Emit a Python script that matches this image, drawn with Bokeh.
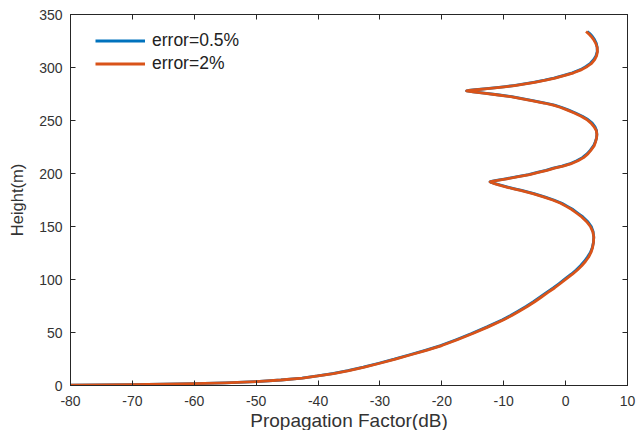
from bokeh.plotting import figure
from bokeh.models import LinearAxis, FixedTicker, Range1d, Legend, LegendItem
from bokeh.embed import file_html
from bokeh.resources import INLINE

# Receiver height (m)
height_m = [
    0.3, 0.5, 0.8, 1.2, 1.7, 2.5, 3.7, 5.2, 7.0, 9.0,
    11.3, 14.0, 17.3, 21.0, 24.8, 29.0, 33.2, 37.7, 43.2, 49.0,
    55.3, 62.0, 66.0, 70.0, 74.5, 79.0, 83.5, 88.0, 92.0, 96.0,
    100.5, 105.0, 109.0, 113.0, 117.0, 121.0, 125.5, 130.0, 135.0, 140.0,
    145.0, 150.0, 154.5, 159.0, 162.5, 166.0, 169.0, 172.0, 175.0, 178.0,
    181.0, 184.0, 185.5, 187.0, 189.0, 190.5, 191.5, 192.2,
    192.6, 193.5, 195.0, 197.0, 199.0, 201.0, 203.0, 205.0, 207.0, 209.0,
    212.0, 215.0, 218.5, 222.0, 226.0, 230.0, 233.5, 237.0,
    240.5, 244.0, 247.5, 251.0, 254.0, 257.0, 260.0, 262.5, 264.5, 266.5,
    268.5, 270.5, 272.5, 274.3, 275.8, 277.0, 277.9,
    278.3, 279.0, 280.0, 281.0, 282.0, 283.0, 284.5, 286.0, 288.0, 290.0,
    292.5, 295.0, 298.0, 301.0, 304.0, 307.5, 311.0, 315.0, 319.0,
    323.0, 326.5, 329.5, 332.0, 334.0,
]

# Propagation factor (dB), error = 0.5 %
pf_err05 = [
    -80.0, -75.0, -70.0, -65.0, -60.0, -55.0, -50.0, -46.0, -42.6, -40.1,
    -37.7, -35.2, -32.7, -30.2, -27.7, -25.2, -22.7, -20.2, -17.7, -15.2,
    -12.7, -10.2, -8.9, -7.7, -6.4, -5.2, -4.1, -3.0, -2.0, -1.1,
    -0.1, 0.9, 1.7, 2.4, 3.0, 3.5, 4.0, 4.3, 4.5, 4.55,
    4.45, 4.15, 3.6, 2.8, 2.0, 1.2, 0.3, -0.6, -1.9, -3.4,
    -5.1, -7.1, -8.2, -9.2, -10.5, -11.4, -12.0, -12.2,
    -12.0, -11.2, -9.7, -7.8, -6.0, -4.6, -3.2, -2.0, -0.6, 0.6,
    1.8, 2.7, 3.45, 4.0, 4.5, 4.8, 5.0, 5.05,
    5.0, 4.75, 4.3, 3.6, 2.7, 1.6, 0.4, -0.7, -1.8, -3.3,
    -5.1, -6.8, -8.7, -11.0, -13.1, -14.9, -16.0,
    -15.7, -14.6, -12.8, -11.2, -9.7, -8.4, -6.7, -5.2, -3.4, -1.9,
    -0.3, 1.1, 2.4, 3.3, 4.0, 4.55, 4.9, 5.1, 5.1,
    4.95, 4.65, 4.3, 3.9, 3.5,
]

# Propagation factor (dB), error = 2 %
pf_err2 = [
    -80.0, -75.0, -70.0, -65.0, -60.0, -55.0, -50.0, -46.0, -42.5, -40.0,
    -37.5, -35.0, -32.5, -30.0, -27.5, -25.0, -22.5, -20.0, -17.5, -15.0,
    -12.5, -10.0, -8.7, -7.5, -6.2, -5.0, -3.9, -2.8, -1.8, -0.9,
    0.1, 1.1, 1.9, 2.6, 3.2, 3.7, 4.1, 4.35, 4.5, 4.55,
    4.4, 4.0, 3.4, 2.6, 1.8, 1.0, 0.1, -0.8, -2.1, -3.6,
    -5.3, -7.3, -8.4, -9.4, -10.7, -11.5, -12.0, -12.2,
    -11.9, -11.0, -9.5, -7.6, -5.8, -4.4, -3.0, -1.8, -0.4, 0.8,
    2.0, 2.9, 3.6, 4.1, 4.6, 4.85, 5.0, 5.05,
    4.95, 4.6, 4.1, 3.4, 2.5, 1.4, 0.2, -0.9, -2.0, -3.5,
    -5.3, -7.0, -8.9, -11.2, -13.3, -15.0, -16.0,
    -15.6, -14.4, -12.6, -11.0, -9.5, -8.2, -6.5, -5.0, -3.2, -1.7,
    -0.1, 1.3, 2.6, 3.5, 4.2, 4.7, 5.0, 5.15, 5.1,
    4.85, 4.5, 4.1, 3.7, 3.3,
]

x_ticks = [-80, -70, -60, -50, -40, -30, -20, -10, 0, 10]
y_ticks = [0, 50, 100, 150, 200, 250, 300, 350]
x_tick_labels = {t: str(t) for t in x_ticks}   # plain hyphen minus

FONT = "Liberation Sans"
AXIS_COLOR = "#262626"
TEXT_COLOR = "#333333"
BLUE = "#0072BD"
ORANGE = "#D95319"

p = figure(
    frame_width=557, frame_height=371,
    x_range=Range1d(-80, 10), y_range=Range1d(0, 350),
    output_backend="svg", toolbar_location=None,
    min_border_left=70, min_border_right=12,
    min_border_top=14, min_border_bottom=45,
    background_fill_color="white", border_fill_color="white",
)
p.xgrid.visible = False
p.ygrid.visible = False
p.outline_line_color = AXIS_COLOR
p.outline_line_width = 1

r1 = p.line(pf_err05, height_m, line_color=BLUE, line_width=2.8, line_join="round")
r2 = p.line(pf_err2, height_m, line_color=ORANGE, line_width=2.8, line_join="round")


def style_axis(ax):
    ax.axis_line_color = AXIS_COLOR
    ax.major_tick_line_color = AXIS_COLOR
    ax.major_tick_in = 5
    ax.major_tick_out = 0
    ax.minor_tick_line_color = None
    ax.major_label_text_font = FONT
    ax.major_label_text_color = TEXT_COLOR
    ax.major_label_text_font_size = "14px"
    ax.axis_label_text_font = FONT
    ax.axis_label_text_color = TEXT_COLOR
    ax.axis_label_text_font_size = "18px"
    ax.axis_label_text_font_style = "normal"


p.xaxis.ticker = FixedTicker(ticks=x_ticks)
p.yaxis.ticker = FixedTicker(ticks=y_ticks)
p.xaxis.major_label_overrides = x_tick_labels
p.xaxis.axis_label = "Propagation Factor(dB)"
p.yaxis.axis_label = "Height(m)"
style_axis(p.xaxis[0])
style_axis(p.yaxis[0])
p.xaxis.axis_label_text_font_size = "19px"
p.yaxis.axis_label_text_font_size = "16.5px"
p.xaxis.major_label_standoff = 10
p.xaxis.axis_label_standoff = 1
p.yaxis.major_label_standoff = 8
p.yaxis.axis_label_standoff = 10

# Box ticks on the top and right edges, without labels
for side, ticks in (("above", x_ticks), ("right", y_ticks)):
    ax = LinearAxis(ticker=FixedTicker(ticks=ticks))
    style_axis(ax)
    ax.major_label_text_color = None
    ax.major_label_text_font_size = "1px"
    ax.major_label_standoff = 0
    p.add_layout(ax, side)

legend = Legend(
    items=[LegendItem(label="error=0.5%", renderers=[r1]),
           LegendItem(label="error=2%", renderers=[r2])],
    location=(25, 310),
    border_line_color=None, background_fill_alpha=0,
    padding=0, margin=0, spacing=0,
    glyph_width=50, glyph_height=23, label_height=23,
    label_standoff=7,
    label_text_font=FONT, label_text_font_size="17.5px",
    label_text_color="#222222",
)
p.add_layout(legend, "center")

open("out.html", "w").write(file_html(p, INLINE))
